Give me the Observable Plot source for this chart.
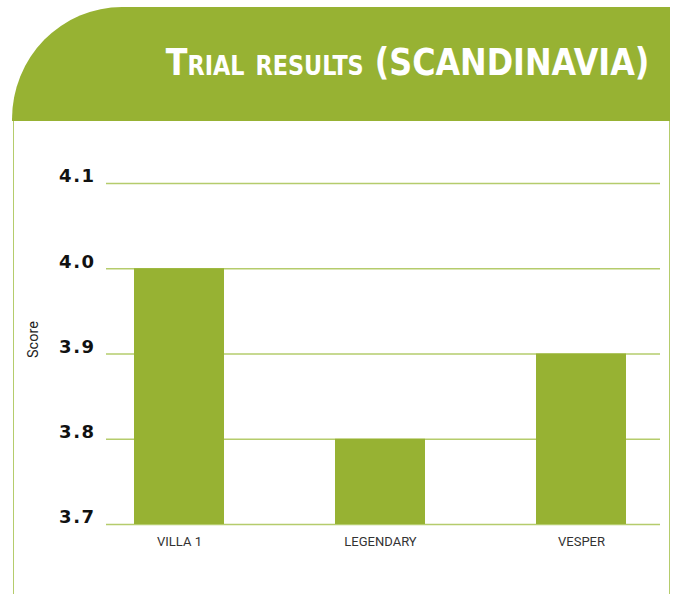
<!DOCTYPE html>
<html>
<head>
<meta charset="utf-8">
<script src="https://cdn.jsdelivr.net/npm/d3@7"></script>
<script src="https://cdn.jsdelivr.net/npm/@observablehq/plot@0.6"></script>
<style>
  html, body { margin: 0; padding: 0; background: #fff; width: 675px; height: 594px; overflow: hidden; }
  #header {
    position: absolute; left: 12px; top: 7px; width: 658px; height: 114px;
    background: #97b233; border-top-left-radius: 110px 112px;
  }
  #title {
    position: absolute; right: 21px; top: 37px;
    font-family: "DejaVu Sans Condensed", "DejaVu Sans", sans-serif;
    font-weight: bold; font-size: 37px; color: #fff; font-variant: small-caps;
    white-space: nowrap; line-height: 1;
    transform: scaleX(0.955); transform-origin: right center;
  }
  #panel {
    position: absolute; left: 13px; top: 121px; width: 655px; height: 473px;
    border-left: 1.5px solid #b5cc6c; border-right: 1.5px solid #b5cc6c;
  }
  #chart { position: absolute; left: 15px; top: 121px; }
  #chart [aria-label="y-axis tick label"] text { letter-spacing: 1.5px; }
</style>
</head>
<body>
<div id="header"><div id="title">Trial results (SCANDINAVIA)</div></div>
<div id="panel"></div>
<div id="chart"></div>
<script>
const categories = ["VILLA 1", "LEGENDARY", "VESPER"];
const scores = [4.0, 3.8, 3.9];
const yTicks = [3.7, 3.8, 3.9, 4.0, 4.1];
const baseline = 3.7;
const axisTitle = "Score";

const data = categories.map((c, i) => ({category: c, score: scores[i]}));

const chart = Plot.plot({
  width: 653,
  height: 473,
  marginLeft: 91,
  marginRight: 8,
  marginTop: 62,
  marginBottom: 70,
  style: {background: "transparent", overflow: "visible"},
  x: {domain: categories, range: [91, 640], paddingInner: 0.55, paddingOuter: 0.134},
  y: {domain: [3.7, 4.1]},
  marks: [
    Plot.ruleY(yTicks, {stroke: "#b5cc6c", strokeWidth: 1.5}),
    Plot.barY(data, {x: "category", y1: baseline, y2: "score", fill: "#97b233"}),
    Plot.axisY(yTicks, {
      tickSize: 0, tickPadding: 11, dy: -7,
      tickFormat: d => d.toFixed(1),
      fontSize: 18, fontWeight: "bold", fill: "#111",
      fontFamily: "DejaVu Sans", label: null
    }),
    Plot.axisX({
      tickSize: 0, tickPadding: 12, fontSize: 13, fill: "#333",
      fontFamily: "Roboto, sans-serif",
      label: null
    }),
    Plot.text([axisTitle], {
      frameAnchor: "left", text: d => d, rotate: -90, dx: -73, dy: 4,
      fontSize: 14.5, fill: "#222",
      fontFamily: "Roboto, sans-serif"
    })
  ]
});
document.getElementById("chart").appendChild(chart);
</script>
</body>
</html>
